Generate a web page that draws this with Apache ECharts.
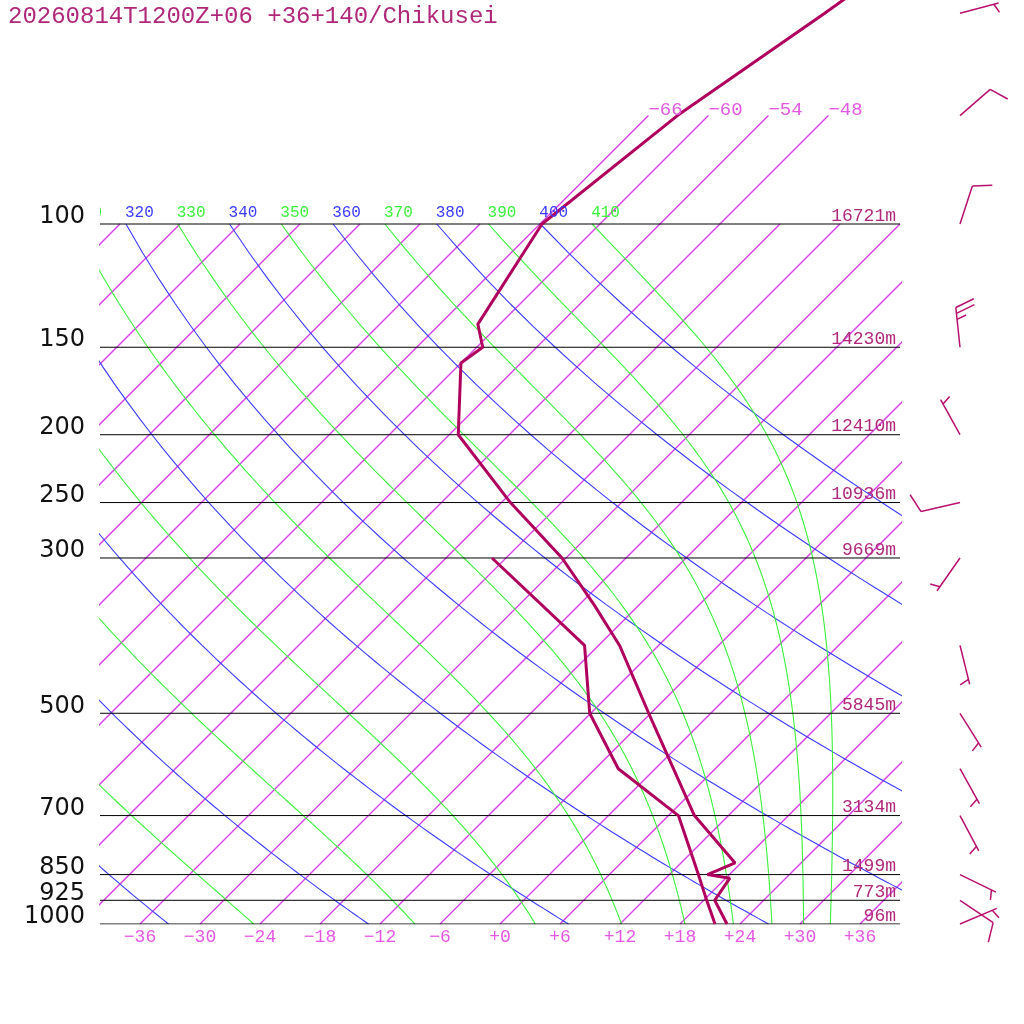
<!DOCTYPE html>
<html>
<head>
<meta charset="utf-8">
<title>Chikusei sounding</title>
<script src="https://cdn.jsdelivr.net/npm/echarts@6/dist/echarts.min.js"></script>
<style>
  html, body { margin: 0; padding: 0; background: #fff; }
  #main { width: 1024px; height: 1024px; }
</style>
</head>
<body>
<div id="main"></div>
<script>
// temperature profile (hPa, degC)
var tempP = [1000, 925, 860, 850, 818, 700, 500, 400, 350, 300, 250, 200, 158, 150, 139, 100, 70, 50, 30];
var tempT = [22.7, 19.1, 18.4, 15.8, 17.4, 8.6, -6.2, -15.9, -22.5, -30.4, -41.1, -53.1, -60.0, -59.4, -62.2, -65.8, -63.1, -58.6, -52.5];

// dew point profile
var dewP = [1000, 925, 850, 700, 600, 500, 400, 300];
var dewT = [21.5, 18.3, 14.9, 7.0, -3.7, -12.1, -19.4, -37.4];

// winds: direction (deg, from), speed (kt)
var windP = [50, 70, 100, 150, 200, 250, 300, 400, 500, 600, 700, 850, 925, 1000];
var windDir = [75, 49, 18, 354, 331, 257, 215, 166, 148, 151, 152, 116, 124, 67];
var windSpd = [5, 10, 10, 25, 5, 10, 5, 5, 5, 5, 5, 5, 10, 5];

// isobars and their heights
var isobarP = [100, 150, 200, 250, 300, 500, 700, 850, 925, 1000];
var isobarText = ['100', '150', '200', '250', '300', '500', '700', '850', '925', '1000'];
var heightText = ['16721m', '14230m', '12410m', '10936m', '9669m', '5845m', '3134m', '1499m', '773m', '96m'];

// background lines
var isotherms = [-108, -102, -96, -90, -84, -78, -72, -66, -60, -54, -48, -42, -36, -30, -24, -18, -12, -6, 0, 6, 12, 18, 24, 30, 36];
var isoTopLabels = [-66, -60, -54, -48];
var tempTicks = [-36, -30, -24, -18, -12, -6, 0, 6, 12, 18, 24, 30, 36];
var dryThetas = [240, 260, 280, 300, 320, 340, 360, 380, 400];
var moistThetas = [250, 270, 290, 310, 330, 350, 370, 390, 410];

var title = '20260814T1200Z+06 +36+140/Chikusei';

var PTOP = 1000 * Math.pow(10, -924 / 700);
var SKEW = 30.4;
var K = 0.2857, RD = 287.04, CP = 1005.7, LV = 2.501e6, EPS = 0.622;

var MAG = '#b0005e';
var BLUE = 'rgb(60,60,255)';
var GREEN = 'rgb(60,240,60)';
var ISO = 'rgb(214,60,228)';
var PINK = 'rgb(228,88,228)';
var MONO = 'Liberation Mono';

function skewX(t, p) {
    return t + SKEW * Math.log(1000 / p);
}

function lapse(T, p) {
    var tc = T - 273.15;
    var es = 6.112 * Math.exp(17.67 * tc / (tc + 243.5));
    var rs = EPS * es / (p - es);
    return (RD * T + LV * rs) / (p * (CP + LV * LV * rs * EPS / (RD * T * T)));
}

function dryLine(theta) {
    var pts = [];
    for (var p = 100; p <= 1000; p += 10) {
        pts.push([skewX(theta * Math.pow(p / 1000, K) - 273.15, p), p]);
    }
    return pts;
}

function moistLine(theta) {
    var p = 100, dp = 1;
    var T = theta * Math.pow(p / 1000, K);
    var pts = [[skewX(T - 273.15, p), p]];
    for (var i = 1; i <= 900; i++) {
        var k1 = lapse(T, p);
        var k2 = lapse(T + k1 * dp / 2, p + dp / 2);
        var k3 = lapse(T + k2 * dp / 2, p + dp / 2);
        var k4 = lapse(T + k3 * dp, p + dp);
        T += dp * (k1 + 2 * k2 + 2 * k3 + k4) / 6;
        p += dp;
        if (i % 5 === 0) pts.push([skewX(T - 273.15, p), p]);
    }
    return pts;
}

function plainLine(data, color, width, z) {
    return {
        type: 'line', data: data, symbol: 'none', silent: true, color: color,
        lineStyle: { color: color, width: width }, z: z, clip: true
    };
}

var series = [];

// isotherms (straight in skew-T space)
isotherms.forEach(function (t) {
    var top = isoTopLabels.indexOf(t) >= 0 ? 70 : 100;
    series.push(plainLine([[skewX(t, 1000), 1000], [skewX(t, top), top]], ISO, 1.3, 2));
});
dryThetas.forEach(function (th) {
    series.push(plainLine(dryLine(th), BLUE, 1.1, 2));
});
moistThetas.forEach(function (th) {
    series.push(plainLine(moistLine(th), GREEN, 1.1, 2));
});
isobarP.forEach(function (p) {
    series.push(plainLine([[-40, p], [40, p]], '#000', 1, 3));
});

series.push(plainLine(tempP.map(function (p, i) { return [skewX(tempT[i], p), p]; }), MAG, 3, 10));
series.push(plainLine(dewP.map(function (p, i) { return [skewX(dewT[i], p), p]; }), MAG, 3, 10));

function textSeries(data, fn, clip) {
    return {
        type: 'custom', coordinateSystem: 'cartesian2d', data: data, silent: true,
        clip: !!clip, z: 12,
        renderItem: function (params, api) {
            var pt = api.coord([api.value(0), api.value(1)]);
            return fn(pt, params.dataIndex);
        }
    };
}

// pressure labels
series.push(textSeries(isobarP.map(function (p) { return [-40, p]; }), function (pt, i) {
    return { type: 'text', style: { text: isobarText[i], x: pt[0] - 15, y: pt[1] - 7,
        align: 'right', verticalAlign: 'middle', fontFamily: 'DejaVu Sans', fontSize: 24, fill: '#111' } };
}));
// height labels
series.push(textSeries(isobarP.map(function (p) { return [40, p]; }), function (pt, i) {
    return { type: 'text', style: { text: heightText[i], x: pt[0] - 4, y: pt[1] - 8,
        align: 'right', verticalAlign: 'middle', fontFamily: MONO, fontSize: 18, fill: '#b0287a' } };
}));
// temperature ticks under the plot
series.push(textSeries(tempTicks.map(function (t) { return [t, 1000]; }), function (pt, i) {
    var t = tempTicks[i];
    return { type: 'text', style: { text: (t < 0 ? '\u2212' + (-t) : '+' + t), x: pt[0], y: pt[1] + 13,
        align: 'center', verticalAlign: 'middle', fontFamily: MONO, fontSize: 18, fill: PINK } };
}));
// labels on the upper ends of the extended isotherms
series.push(textSeries(isoTopLabels.map(function (t) { return [skewX(t, 70), 70]; }), function (pt, i) {
    return { type: 'text', style: { text: '\u2212' + (-isoTopLabels[i]), x: pt[0], y: pt[1] - 6,
        align: 'left', verticalAlign: 'middle', fontFamily: MONO, fontSize: 19, fill: PINK } };
}));
// potential temperature labels at 100 hPa
var thetaAll = dryThetas.concat(moistThetas);
series.push(textSeries(thetaAll.map(function (th) {
    return [skewX(th * Math.pow(0.1, K) - 273.15, 100), 100];
}), function (pt, i) {
    var dry = i < dryThetas.length;
    return { type: 'text', style: { text: String(thetaAll[i]), x: pt[0] - 1, y: pt[1] - 11,
        align: 'left', verticalAlign: 'middle', fontFamily: MONO, fontSize: 16, fill: dry ? BLUE : GREEN } };
}, true));

// wind barbs
series.push({
    type: 'custom', coordinateSystem: 'cartesian2d', silent: true, clip: false, z: 12,
    data: windP.map(function (p, i) { return [46, p, windDir[i], windSpd[i]]; }),
    renderItem: function (params, api) {
        var base = api.coord([api.value(0), api.value(1)]);
        var a = api.value(2) * Math.PI / 180;
        var spd = api.value(3);
        var ux = Math.sin(a), uy = -Math.cos(a);
        var r = 70 * Math.PI / 180;
        var bx = ux * Math.cos(r) - uy * Math.sin(r);
        var by = ux * Math.sin(r) + uy * Math.cos(r);
        var L = 40, st = { stroke: '#b8106e', lineWidth: 1.5 };
        var tip = [base[0] + ux * L, base[1] + uy * L];
        var kids = [{ type: 'line', shape: { x1: base[0], y1: base[1], x2: tip[0], y2: tip[1] }, style: st }];
        var full = Math.floor(spd / 10), half = (spd % 10) >= 5 ? 1 : 0;
        var off = full === 0 ? 5 : 0;
        for (var k = 0; k < full + half; k++) {
            var len = k < full ? 20 : 10;
            var sx = tip[0] - ux * off, sy = tip[1] - uy * off;
            kids.push({ type: 'line', shape: { x1: sx, y1: sy, x2: sx + bx * len, y2: sy + by * len }, style: st });
            off += 6;
        }
        return { type: 'group', children: kids };
    }
});

var chart = echarts.init(document.getElementById('main'));
chart.setOption({
    animation: false,
    backgroundColor: '#fff',
    grid: { left: 100, top: 0, width: 800, height: 924 },
    xAxis: { type: 'value', min: -40, max: 40, show: false },
    yAxis: { type: 'log', logBase: 10, inverse: true, min: PTOP, max: 1000, show: false },
    graphic: [{
        type: 'text', x: 8, y: 17, silent: true,
        style: { text: title, fontFamily: MONO, fontSize: 24, fill: '#b0287a', verticalAlign: 'middle' }
    }],
    series: series
});
</script>
</body>
</html>
